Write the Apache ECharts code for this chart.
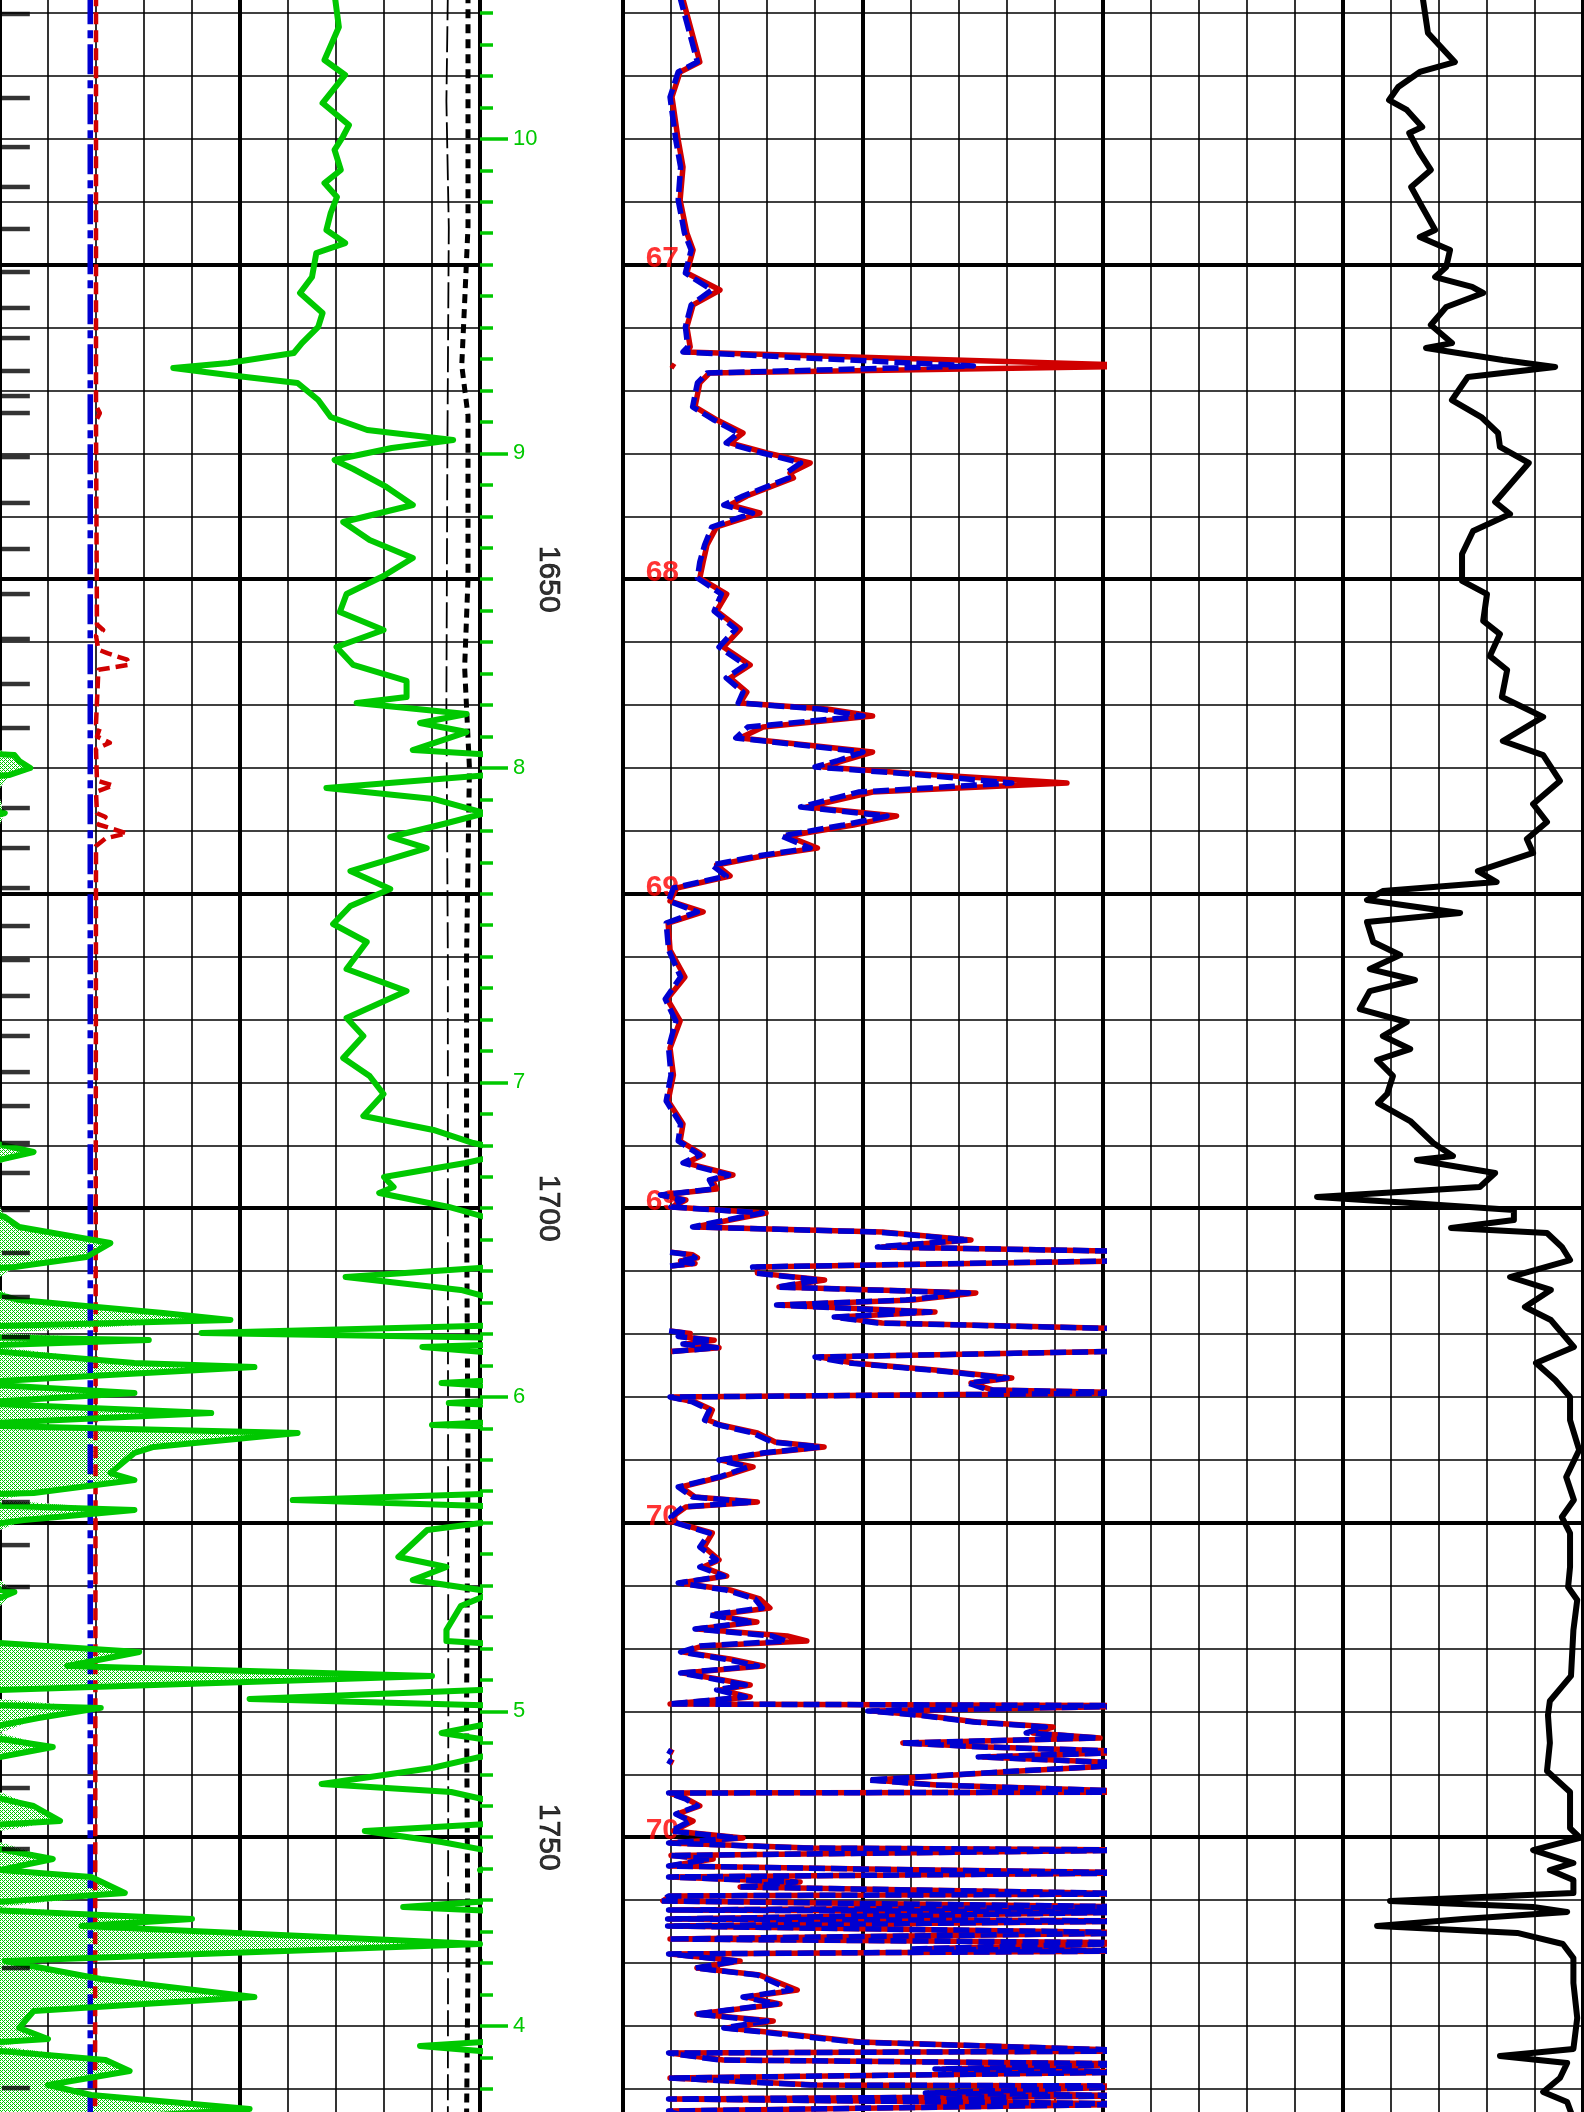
<!DOCTYPE html>
<html><head><meta charset="utf-8">
<script src="https://cdn.jsdelivr.net/npm/echarts@6/dist/echarts.min.js"></script>
<style>html,body{margin:0;padding:0;background:#fff;overflow:hidden;width:1584px;height:2112px}#c{position:absolute;left:0;top:-50px;width:1584px;height:2202px}</style>
</head><body><div id="c"></div>
<script>
// ---------------- DATA ----------------
const depthLabels = [1650, 1700, 1750];
const tempLabelDepths = [1625, 1650, 1675, 1700, 1725, 1750];
const tempLabels = ['67', '68', '69', '69', '70', '70'];
const greenMarkDepths = [1615, 1640, 1665, 1690, 1715, 1740, 1765];
const greenMarkLabels = ['10', '9', '8', '7', '6', '5', '4'];
const tickMarkDepths = [1605.07,1611.75,1615.65,1618.82,1622.16,1625.58,1628.44,1630.83,1633.45,1635.44,1636.79,1640.29,1643.94,1647.60,1651.18,1654.75,1658.33,1661.83,1668.19,1671.37,1674.55,1677.57,1680.27,1683.13,1686.31,1689.18,1691.88,1694.82,1697.20,1700.14,1703.56,1707.06,1710.24,1723.36,1726.78,1730.11,1746.09,1750.94,1760.40,1769.94];

// track 1 : [depth, value]
const bitLog = [[1603.5,1.88],[1772.4,1.88]];
const caliperLog = [[1603.5,2.0],[1636.2,2.0],[1636.8,2.08],[1637.4,2.0],[1653.6,2.02],[1654.04,2.15],[1654.5,2.0],[1655.6,2.05],[1655.9,2.25],[1656.4,2.65],[1656.8,2.7],[1657.2,2.05],[1661.5,2.0],[1661.83,2.08],[1662.5,2.02],[1663.0,2.29],[1663.5,2.0],[1666.0,2.02],[1666.4,2.36],[1666.9,2.0],[1668.6,2.02],[1668.9,2.2],[1669.5,2.05],[1670.2,2.64],[1670.6,2.2],[1671.2,2.0],[1772.4,1.98]];
const thickDashLog = [[1603.5,9.75],[1622,9.75],[1628,9.68],[1633,9.62],[1637,9.75],[1650,9.75],[1657,9.68],[1665,9.78],[1680,9.72],[1700,9.72],[1720,9.75],[1740,9.72],[1760,9.75],[1772.4,9.72]];
const thinDashLog = [[1603.5,9.33],[1612,9.3],[1622,9.35],[1640,9.32],[1660,9.3],[1680,9.33],[1700,9.33],[1740,9.34],[1772.4,9.33]];
const greenLog = [[1603.5,6.97],[1606.11,7.06],[1608.73,6.76],[1609.92,7.19],[1612.15,6.72],[1613.90,7.27],[1614.85,7.14],[1615.88,6.97],[1617.47,7.1],[1618.51,6.76],[1619.62,7.02],[1620.89,6.89],[1622.24,6.8],[1623.28,7.19],[1624.07,6.59],[1625.98,6.5],[1627.25,6.25],[1628.84,6.72],[1629.95,6.63],[1631.23,6.29],[1632.02,6.12],[1632.81,4.76],[1633.21,3.61],[1633.77,4.76],[1634.40,6.2],[1635.76,6.63],[1637.11,6.89],[1638.14,7.65],[1638.94,9.44],[1639.57,8.16],[1640.52,6.97],[1641.24,7.36],[1642.67,8.05],[1644.10,8.6],[1645.45,7.15],[1646.88,7.7],[1648.32,8.6],[1649.75,7.99],[1651.18,7.22],[1652.61,7.08],[1654.04,7.99],[1655.39,7.01],[1656.82,7.36],[1658.09,8.47],[1659.36,8.47],[1659.84,7.43],[1660.72,9.72],[1661.43,8.75],[1662.15,9.72],[1663.58,8.6],[1663.98,10.3],[1664.45,10.4],[1665.01,10.63],[1665.56,10.2],[1666.60,6.8],[1667.47,9.03],[1668.59,10.1],[1669.46,9.24],[1670.49,8.13],[1671.37,8.89],[1673.20,7.3],[1674.63,8.13],[1675.98,7.3],[1677.41,6.94],[1678.84,7.64],[1680.99,7.22],[1682.74,8.47],[1684.88,7.22],[1686.31,7.57],[1688.06,7.15],[1689.49,7.7],[1690.92,7.99],[1692.67,7.57],[1693.78,9.03],[1694.82,9.86],[1695.53,10.7],[1696.41,9.7],[1697.52,8.0],[1698.32,8.2],[1698.79,7.9],[1699.90,9.35],[1700.70,10.1],[1701.49,10.4],[1702.77,12.3],[1703.88,11.8],[1704.67,10.3],[1705.47,7.2],[1706.50,9.6],[1707.30,10.4],[1708.33,13.4],[1708.89,14.8],[1709.92,4.2],[1710.47,13.1],[1711.03,8.8],[1712.31,12.8],[1712.63,15.3],[1713.90,9.2],[1714.69,12.8],[1715.49,9.35],[1716.28,14.4],[1717.23,9.0],[1717.87,16.2],[1718.98,13.2],[1719.46,12.8],[1721.05,12.3],[1721.61,12.8],[1722.64,10.7],[1723.20,6.1],[1723.99,12.8],[1724.79,10.5],[1725.58,8.9],[1727.73,8.3],[1728.52,9.3],[1729.56,8.6],[1730.51,10.3],[1731.62,9.6],[1733.53,9.3],[1734.40,9.3],[1735.28,12.9],[1736.39,11.4],[1737.18,19.0],[1738.29,10.0],[1739.01,5.2],[1739.72,12.1],[1740.52,10.8],[1741.71,9.2],[1742.83,11.1],[1743.62,10.0],[1744.50,9.0],[1745.77,6.7],[1746.41,9.4],[1747.52,10.7],[1748.71,11.25],[1749.51,7.6],[1750.38,9.2],[1751.73,11.1],[1752.61,10.0],[1753.16,11.9],[1754.43,12.6],[1755.55,8.4],[1756.50,14.0],[1757.06,11.7],[1758.49,20.0],[1759.84,10.1],[1761.27,12.1],[1762.71,15.3],[1763.82,10.7],[1765.17,10.4],[1766.04,11.0],[1766.60,8.75],[1767.71,12.2],[1768.59,12.7],[1769.70,11.0],[1770.49,11.9],[1771.61,15.2],[1772.4,12.0]];

// track 2 : [depth, red value, blue value]
const t2Log = [[1603.5,1.22,1.17],[1608.89,1.6,1.55],[1609.68,1.19,1.15],[1611.67,1.02,0.98],[1615.09,1.15,1.1],[1617.23,1.25,1.2],[1619.86,1.19,1.15],[1622.48,1.33,1.28],[1623.83,1.46,1.42],[1625.66,1.33,1.3],[1627.01,2.02,1.85],[1628.20,1.46,1.42],[1629.95,1.33,1.3],[1631.54,1.4,1.35],[1631.94,1.29,1.25],[1633.05,11.05,7.3],[1633.61,1.8,1.75],[1634.40,1.6,1.55],[1636.31,1.5,1.45],[1637.35,1.96,1.9],[1638.38,2.5,2.4],[1639.17,2.23,2.15],[1639.97,3.0,2.9],[1640.76,3.9,3.7],[1641.56,3.48,3.4],[1641.96,3.55,3.45],[1643.39,2.58,2.5],[1644.10,2.23,2.1],[1644.74,2.85,2.7],[1645.85,1.95,1.85],[1647.28,1.75,1.7],[1648.63,1.67,1.6],[1649.91,1.6,1.55],[1651.18,2.16,2.05],[1652.53,1.95,1.9],[1653.96,2.44,2.35],[1655.39,2.09,2.0],[1656.82,2.65,2.55],[1657.85,2.23,2.15],[1658.97,2.58,2.5],[1659.84,2.44,2.4],[1660.32,4.25,4.1],[1660.88,5.2,5.0],[1661.75,2.92,2.6],[1662.62,2.44,2.35],[1663.18,3.83,3.7],[1663.74,5.2,5.0],[1664.45,4.58,4.45],[1664.93,4.17,4.0],[1665.49,6.19,6.0],[1666.20,9.25,8.1],[1666.92,5.2,4.9],[1668.11,3.83,3.7],[1668.83,5.7,5.5],[1669.54,4.8,4.6],[1670.41,3.42,3.3],[1671.37,4.05,3.9],[1672.00,2.92,2.8],[1672.72,1.95,1.85],[1673.59,2.23,2.15],[1674.55,1.12,1.05],[1675.58,0.98,0.95],[1676.45,1.67,1.55],[1677.33,0.94,0.9],[1679.48,0.98,0.95],[1681.62,1.29,1.2],[1683.37,0.92,0.88],[1685.12,1.19,1.1],[1687.27,0.98,0.95],[1689.41,1.05,1.0],[1691.48,0.94,0.9],[1693.31,1.25,1.2],[1694.66,1.19,1.15],[1695.77,1.67,1.6],[1696.40,1.31,1.25],[1697.36,2.29,2.2],[1697.76,1.86,1.8],[1698.47,1.95,1.9],[1698.95,0.8,0.78],[1699.35,1.31,1.25],[1699.90,1.02,1.0],[1700.38,2.98,2.9],[1700.94,2.23,2.15],[1701.49,1.5,1.45],[1701.89,5.4,5.3],[1702.53,7.25,7.2],[1703.08,5.4,5.3],[1703.48,11.3,11.3],[1704.12,11.5,11.4],[1704.67,2.8,2.7],[1705.16,2.8,2.75],[1705.71,4.2,4.1],[1706.27,3.25,3.2],[1706.74,7.35,7.2],[1707.30,6.04,5.9],[1707.70,3.25,3.2],[1708.25,6.5,6.4],[1708.65,4.46,4.4],[1709.13,5.4,5.3],[1709.68,11.5,11.5],[1710.47,11.2,11.2],[1711.27,11.9,11.8],[1711.83,4.1,4.0],[1712.31,4.8,4.7],[1712.86,6.5,6.4],[1713.50,8.1,8.0],[1713.90,7.25,7.2],[1714.45,7.7,7.6],[1714.69,11.0,11.0],[1715.01,1.0,0.98],[1715.40,1.5,1.45],[1716.04,1.86,1.8],[1716.84,1.77,1.7],[1717.23,2.04,2.0],[1717.87,2.8,2.7],[1718.58,3.17,3.1],[1718.98,4.19,4.1],[1719.46,2.98,2.9],[1720.02,2.04,2.0],[1720.57,2.71,2.6],[1721.37,2.04,2.0],[1722.16,1.21,1.15],[1722.96,1.5,1.45],[1723.36,2.8,2.7],[1723.75,1.31,1.25],[1724.55,1.02,1.0],[1725.02,1.12,1.1],[1725.82,1.86,1.8],[1726.93,1.69,1.6],[1727.96,2.0,1.95],[1728.52,1.67,1.6],[1729.24,2.16,2.1],[1729.79,1.19,1.15],[1730.35,2.23,2.15],[1731.06,2.85,2.75],[1731.78,3.06,2.9],[1732.34,1.88,1.8],[1732.89,2.79,2.7],[1733.45,1.54,1.5],[1734.00,3.42,3.1],[1734.40,3.83,3.4],[1734.80,1.67,1.6],[1735.28,1.25,1.2],[1735.83,2.23,2.1],[1736.39,2.92,2.8],[1736.95,1.25,1.2],[1737.50,2.09,2.0],[1737.90,2.65,2.55],[1738.29,2.02,1.95],[1738.85,2.65,2.55],[1739.41,0.98,0.95],[1739.55,11.2,11.2],[1739.96,5.2,5.1],[1740.28,6.19,6.1],[1740.84,7.38,7.3],[1741.24,8.96,8.8],[1741.71,8.54,8.4],[1742.11,9.94,9.9],[1742.51,5.83,5.8],[1742.83,7.58,7.5],[1743.22,10.9,10.9],[1743.62,7.5,7.4],[1744.18,10.9,10.9],[1744.74,8.27,8.2],[1745.45,5.2,5.1],[1745.85,6.54,6.5],[1746.41,11.0,11.0],[1746.49,0.98,0.95],[1746.96,1.33,1.3],[1747.52,1.6,1.55],[1748.16,1.12,1.1],[1748.71,1.46,1.4],[1749.51,1.05,1.0],[1750.06,2.5,2.4],[1750.46,0.98,0.95],[1750.86,3.9,3.8],[1751.02,11.0,11.0],[1751.45,1.0,0.98],[1751.73,1.88,1.8],[1752.29,0.98,0.95],[1752.61,6.46,6.3],[1752.84,11.0,11.0],[1753.16,0.98,0.95],[1753.56,3.69,3.6],[1753.96,2.44,2.4],[1754.51,11.0,11.0],[1754.67,0.98,0.95],[1755.07,0.83,0.8],[1755.55,11.0,11.0],[1755.79,0.98,0.95],[1755.94,11.0,11.0],[1756.50,0.96,0.93],[1756.66,11.0,11.0],[1757.06,0.96,0.93],[1757.61,11.0,11.0],[1758.09,0.98,0.95],[1758.40,11.0,11.0],[1758.88,6.13,6.0],[1759.04,11.0,11.0],[1759.28,0.98,0.95],[1759.84,2.44,2.4],[1760.40,1.54,1.5],[1760.96,2.85,2.8],[1762.15,3.63,3.5],[1762.71,2.58,2.5],[1763.26,3.27,3.2],[1764.06,1.54,1.5],[1764.61,3.13,3.0],[1765.17,2.16,2.1],[1765.73,3.63,3.5],[1766.28,4.94,4.8],[1767.00,11.0,11.0],[1767.16,0.98,0.95],[1767.71,2.09,2.0],[1768.03,11.0,11.0],[1768.43,6.67,6.5],[1768.67,11.0,11.0],[1769.14,0.98,0.95],[1769.70,4.04,3.9],[1769.78,11.0,11.0],[1770.33,6.4,6.3],[1770.57,11.0,11.0],[1770.81,0.98,0.95],[1771.21,11.0,11.0],[1771.77,0.98,0.95],[1772.4,1.5,1.45]];
// track 2 isolated fragments : each is a list of [depth, red value, blue value]
const t2Blips = [
  [[1632.95,1.0,null],[1633.15,1.08,null]],
  [[1703.5,1.0,0.98],[1703.7,1.45,1.4],[1703.95,1.55,1.5],[1704.2,1.2,1.15],[1704.4,1.5,1.45],[1704.6,1.0,0.98]],
  [[1709.75,0.98,0.96],[1709.95,1.4,1.35],[1710.2,1.2,1.15],[1710.5,1.9,1.85],[1710.8,1.3,1.25],[1711.1,2.0,1.95],[1711.4,1.0,0.98]],
  [[1743.1,0.95,0.93],[1743.3,1.05,1.02]],
  [[1743.9,0.95,0.93],[1744.1,1.05,1.02]]
];

// track 3 : [depth, value]
const blackLog = [[1603.5,6.65],[1606.58,6.77],[1608.89,7.33],[1609.68,6.6],[1610.88,6.15],[1611.91,5.96],[1612.70,6.33],[1614.06,6.65],[1614.53,6.38],[1616.12,6.6],[1617.47,6.83],[1618.82,6.42],[1620.41,6.65],[1622.24,6.92],[1622.80,6.6],[1623.83,7.23],[1625.18,7.15],[1625.98,6.92],[1626.77,7.69],[1627.25,7.92],[1628.36,7.15],[1629.79,6.83],[1631.23,7.27],[1631.62,6.73],[1632.58,8.33],[1633.13,9.42],[1633.93,7.6],[1635.76,7.27],[1637.11,7.88],[1638.38,8.23],[1639.49,8.27],[1640.76,8.87],[1641.96,8.6],[1643.86,8.17],[1644.82,8.48],[1646.17,7.71],[1648.00,7.48],[1650.14,7.48],[1651.18,8.0],[1653.32,7.92],[1654.36,8.27],[1656.11,8.06],[1657.22,8.42],[1659.36,8.31],[1660.95,9.17],[1662.86,8.33],[1663.98,9.17],[1666.04,9.52],[1667.87,8.96],[1669.30,9.25],[1670.65,8.83],[1671.76,8.96],[1673.20,7.81],[1674.07,8.2],[1674.79,5.83],[1675.50,5.5],[1676.53,7.44],[1677.25,5.5],[1678.84,5.63],[1679.87,6.19],[1680.99,5.56],[1681.86,6.5],[1682.74,5.56],[1684.17,5.35],[1685.20,6.33],[1686.31,5.83],[1687.35,6.4],[1688.22,5.71],[1689.49,6.04],[1690.92,5.92],[1691.64,5.73],[1693.07,6.4],[1694.82,6.88],[1695.85,7.29],[1696.17,6.54],[1697.20,8.17],[1698.32,7.85],[1699.11,4.46],[1699.59,6.4],[1700.14,8.56],[1700.94,8.56],[1701.57,7.25],[1701.97,9.25],[1703.08,9.56],[1704.12,9.73],[1705.47,8.48],[1706.50,9.33],[1707.85,8.79],[1708.89,9.33],[1709.92,9.56],[1711.03,9.81],[1712.31,9.02],[1713.66,9.42],[1715.01,9.73],[1716.84,9.73],[1719.22,9.92],[1721.37,9.65],[1723.20,9.81],[1724.55,9.56],[1725.82,9.73],[1728.52,9.73],[1730.11,9.69],[1731.14,9.88],[1733.53,9.8],[1737.18,9.75],[1739.17,9.31],[1740.29,9.27],[1742.51,9.31],[1744.74,9.25],[1746.41,9.73],[1749.27,9.73],[1750.06,9.94],[1751.02,8.96],[1752.05,9.8],[1752.61,9.31],[1753.40,9.8],[1754.43,9.8],[1755.07,5.98],[1755.55,8.96],[1755.94,9.67],[1756.50,7.5],[1757.06,5.71],[1757.61,8.63],[1758.49,9.58],[1759.60,9.8],[1761.59,9.8],[1764.37,9.88],[1766.83,9.8],[1767.39,8.27],[1767.95,9.67],[1769.14,9.52],[1770.25,9.17],[1771.05,9.67],[1772.4,9.8]];

// ---------------- CHART ----------------
const GREEN = '#00c800', RED = '#d00000', BLUE = '#0000d0';
const GT = 0.2, GH = 2201.5;
const FONT = '"Liberation Sans", Arial, sans-serif';

const pat = document.createElement('canvas');
pat.width = 4; pat.height = 4;
const pctx = pat.getContext('2d');
pctx.fillStyle = '#ffffff'; pctx.fillRect(0, 0, 4, 4);
pctx.fillStyle = GREEN;
[[0,0],[2,0],[1,1],[0,2],[2,2],[3,3]].forEach(p => pctx.fillRect(p[0], p[1], 1, 1));

function xThin(g) { return {type:'value', gridIndex:g, min:0, max:10, interval:1, axisLine:{show:false}, axisTick:{show:false}, axisLabel:{show:false}, splitLine:{show:true, lineStyle:{color:'#000', width:1.6}}}; }
function xThick(g) { return {type:'value', gridIndex:g, min:0, max:10, interval:5, axisLine:{show:false}, axisTick:{show:false}, axisLabel:{show:false}, splitLine:{show:true, lineStyle:{color:'#000', width:4}}}; }
function xHidden(g, mn, mx) { return {type:'value', gridIndex:g, min:mn, max:mx, show:false}; }
function yThin(g) { return {type:'value', gridIndex:g, min:1600, max:1775, inverse:true, interval:5, axisLine:{show:false}, axisTick:{show:false}, axisLabel:{show:false}, splitLine:{show:true, lineStyle:{color:'#000', width:1.6}}}; }
function yThick(g) { return {type:'value', gridIndex:g, min:1600, max:1775, inverse:true, interval:25, axisLine:{show:false}, axisTick:{show:false}, axisLabel:{show:false}, splitLine:{show:true, lineStyle:{color:'#000', width:4}}}; }

function line(data, xi, yi, color, width, type, z) {
  return {type:'line', xAxisIndex:xi, yAxisIndex:yi, data:data, showSymbol:false, symbol:'none', clip:true, silent:true, connectNulls:false,
    lineStyle:{color:color, width:width, type:type || 'solid', cap:'butt', join:'round'}, z:z || 3};
}
const xy = (arr) => arr.map(r => [r[1], r[0]]);
function blipData(col) {
  const out = [];
  t2Blips.forEach(seg => { seg.forEach(r => { if (r[col] != null) out.push([r[col], r[0]]); }); out.push(['-', '-']); });
  return out;
}

const gridBase = {outerBoundsMode:'none', containLabel:false};
const option = {
  animation: false,
  backgroundColor: '#fff',
  grid: [
    Object.assign({left:0, top:GT, width:480, height:GH}, gridBase),
    Object.assign({left:480, top:GT, width:143, height:GH}, gridBase),
    Object.assign({left:623, top:GT, width:480, height:GH}, gridBase),
    Object.assign({left:1103, top:GT, width:480, height:GH}, gridBase)
  ],
  xAxis: [xThin(0), xThick(0), xHidden(0,10,20), xHidden(1,0,1), xThin(2), xThick(2), xHidden(2,10,20), xThin(3), xThick(3)],
  yAxis: [
    yThin(0), yThick(0),
    {type:'value', gridIndex:1, min:1600, max:1775, inverse:true, interval:2.5, position:'left',
      axisLine:{show:false}, axisLabel:{show:false}, splitLine:{show:false},
      axisTick:{show:true, inside:true, length:13, lineStyle:{color:GREEN, width:3.5}}},
    {type:'value', gridIndex:1, min:1600, max:1775, inverse:true, position:'left',
      axisLine:{show:false}, splitLine:{show:false},
      axisTick:{show:true, inside:true, length:28, customValues:greenMarkDepths, lineStyle:{color:GREEN, width:3.5}},
      axisLabel:{show:true, inside:true, margin:33, customValues:greenMarkDepths, color:GREEN, fontSize:22, fontFamily:FONT,
        formatter: (v) => { const i = greenMarkDepths.indexOf(Math.round(v)); return i >= 0 ? greenMarkLabels[i] : ''; }}},
    yThin(2), yThick(2), yThin(3), yThick(3)
  ],
  series: [
    // track 1
    {type:'custom', xAxisIndex:2, yAxisIndex:0, clip:true, silent:true, z:2, data:[0],
      renderItem: (params, api) => {
        const pts = [api.coord([10, greenLog[0][0]])];
        greenLog.forEach(r => pts.push(api.coord([Math.max(r[1], 10), r[0]])));
        pts.push(api.coord([10, greenLog[greenLog.length - 1][0]]));
        return {type:'polygon', shape:{points:pts}, style:{fill:{image:pat, repeat:'repeat'}, stroke:null}};
      }},
    line(xy(bitLog), 0, 0, BLUE, 5.5, [30, 6, 8, 6], 3),
    line(xy(caliperLog), 0, 0, RED, 4.5, [12, 6], 4),
    line(xy(thinDashLog), 0, 0, '#000', 1.8, [26, 6], 3),
    line(xy(thickDashLog), 0, 0, '#000', 5, [9, 6], 3),
    line(xy(greenLog), 0, 0, GREEN, 6, 'solid', 5),
    line(xy(greenLog), 2, 0, GREEN, 6, 'solid', 5),
    {type:'scatter', xAxisIndex:0, yAxisIndex:0, silent:true, z:6, symbol:'rect', symbolSize:[28, 4.5],
      itemStyle:{color:'#000'}, data: tickMarkDepths.map(d => [0.33, d])},
    // depth track
    {type:'scatter', xAxisIndex:3, yAxisIndex:2, silent:true, symbol:'circle', symbolSize:1, itemStyle:{color:'rgba(0,0,0,0)'},
      data: depthLabels.map(d => [0.48, d]),
      label:{show:true, position:'inside', rotate:-90, color:'#000', fontSize:30, fontFamily:FONT, textBorderColor:'#000', textBorderWidth:0.8,
        formatter:(p) => String(depthLabels[p.dataIndex])}},
    // track 2
    {type:'scatter', xAxisIndex:4, yAxisIndex:4, silent:true, z:1, symbol:'circle', symbolSize:1, itemStyle:{color:'rgba(0,0,0,0)'},
      data: tempLabelDepths.map(d => [0.82, d]),
      label:{show:true, position:'inside', offset:[0,-6], color:'#ff0000', fontSize:30, fontWeight:'bold', fontFamily:FONT, formatter:(p) => tempLabels[p.dataIndex]}},
    line(t2Log.map(r => [r[1], r[0]]), 4, 4, RED, 5.5, 'solid', 3),
    line(t2Log.map(r => [r[2], r[0]]), 4, 4, BLUE, 5.5, [16, 6], 4),
    line(blipData(1), 4, 4, RED, 5.5, 'solid', 3),
    line(blipData(2), 4, 4, BLUE, 5.5, [16, 6], 4),
    // track 3
    line(xy(blackLog), 7, 6, '#000', 6, 'solid', 3)
  ]
};

const chart = echarts.init(document.getElementById('c'), null, {renderer:'canvas', width:1584, height:2202});
chart.setOption(option);
</script>
</body></html>
